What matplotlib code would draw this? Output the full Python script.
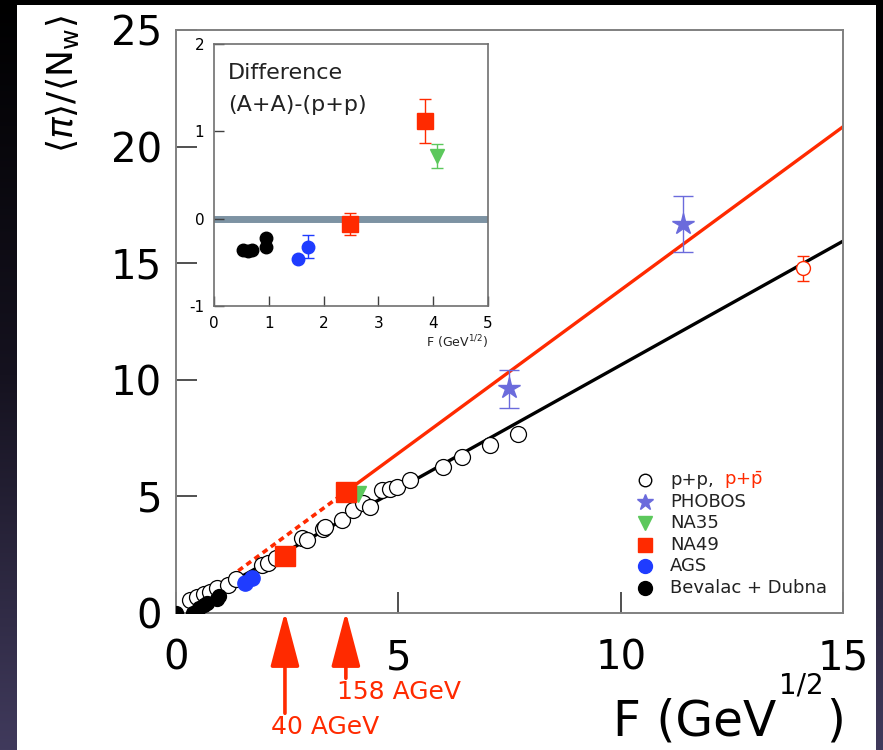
import numpy as np
import matplotlib.pyplot as plt
from matplotlib.patches import Rectangle
from matplotlib.colors import LinearSegmentedColormap

plt.rcParams['axes.unicode_minus'] = False
plt.rcParams['mathtext.fontset'] = 'dejavusans'

# ---------------------------------------------------------------------------
# data
# ---------------------------------------------------------------------------
# p+p (open circles)
pp_F = [0.31, 0.47, 0.62, 0.76, 0.92, 1.17, 1.35, 1.93, 2.07, 2.25, 2.83, 2.95,
        3.30, 3.35, 3.73, 3.98, 4.20, 4.36, 4.63, 4.81, 4.97, 5.26, 6.00, 6.43,
        7.06, 7.69]
pp_y = [0.56, 0.69, 0.80, 0.90, 1.07, 1.20, 1.45, 2.07, 2.15, 2.35, 3.20, 3.14,
        3.60, 3.70, 4.00, 4.43, 4.70, 4.56, 5.29, 5.30, 5.40, 5.72, 6.27, 6.70,
        7.22, 7.69]
# p+pbar
ppbar_F = [14.1]
ppbar_y = [14.78]
ppbar_err = [0.55]
# PHOBOS
phobos_F = [7.49, 11.4]
phobos_y = [9.63, 16.67]
phobos_lo = [0.83, 1.17]
phobos_hi = [0.77, 1.23]
# NA35
na35_F = [4.09]
na35_y = [5.10]
# NA49
na49_F = [2.45, 3.82]
na49_y = [2.45, 5.18]
# AGS
ags_F = [1.55, 1.71]
ags_y = [1.29, 1.50]
# Bevalac + Dubna
bev_F = [0.00, 0.38, 0.52, 0.62, 0.70, 0.93, 0.96]
bev_y = [0.00, 0.02, 0.22, 0.35, 0.42, 0.62, 0.72]

# straight lines: slope / intercept and range
pp_slope, pp_range = 1.063, (0.5, 15.0)
aa_slope, aa_icpt = 1.40, -0.15
aa_dash_range = (0.85, 3.82)
aa_solid_range = (3.82, 15.0)

# inset: difference (A+A)-(p+p)
d_na49_F = [2.48, 3.85]
d_na49 = [-0.06, 1.12]
d_na49_lo = [0.13, 0.25]
d_na49_hi = [0.12, 0.25]
d_na35_F = [4.07]
d_na35 = [0.72]
d_na35_err = [0.14]
d_ags_F = [1.54, 1.72]
d_ags = [-0.46, -0.32]
d_ags_err = [0.0, 0.13]
d_bev_F = [0.53, 0.62, 0.70, 0.95, 0.95]
d_bev = [-0.36, -0.37, -0.36, -0.22, -0.33]

# energy arrows
arrow_F = [2.45, 3.82]
arrow_labels = ['40 AGeV', '158 AGeV']

RED = '#ff2a00'
STAR = '#6b6bdc'
GREEN = '#5cc85c'
BLUE = '#1f3cff'

W, H = 883, 750
fig = plt.figure(figsize=(W / 100, H / 100), dpi=100)

# dark slide background with white panel
bg = fig.add_axes([0, 0, 1, 1], zorder=-10)
grad = np.linspace(0, 1, 256).reshape(-1, 1)
cmap = LinearSegmentedColormap.from_list('bg', ['#000000', '#15121f', '#403a5c'])
bg.imshow(grad, aspect='auto', cmap=cmap, extent=[0, 1, 0, 1], origin='upper')
bg.add_patch(Rectangle((17 / W, 0), (876 - 17) / W, (750 - 5) / H,
                       facecolor='white', edgecolor='none'))
bg.set_xlim(0, 1)
bg.set_ylim(0, 1)
bg.axis('off')

# ---------------------------------------------------------------------------
# main panel
# ---------------------------------------------------------------------------
ax = fig.add_axes([176 / W, 1 - 613 / H, (843 - 176) / W, (613 - 30) / H])
ax.set_facecolor('none')

xs = np.array(pp_range)
ax.plot(xs, pp_slope * xs, color='black', lw=2.4, zorder=2)
xs = np.array(aa_dash_range)
ax.plot(xs, aa_slope * xs + aa_icpt, color=RED, lw=2.6, ls=(0, (1.6, 1.2)), zorder=2)
xs = np.array(aa_solid_range)
ax.plot(xs, aa_slope * xs + aa_icpt, color=RED, lw=2.4, zorder=2)

ax.plot(pp_F, pp_y, 'o', mfc='white', mec='black', mew=0.9, ms=11.5, zorder=3)
ax.plot(bev_F, bev_y, 'o', color='black', ms=10, zorder=4)
ax.plot(ags_F, ags_y, 'o', color=BLUE, ms=11, zorder=4)
ax.plot(na35_F, na35_y, 'v', color=GREEN, ms=12, zorder=4)
ax.plot(na49_F, na49_y, 's', color=RED, ms=15, zorder=5)
ax.errorbar(phobos_F, phobos_y, yerr=[phobos_lo, phobos_hi], fmt='*', color=STAR,
            ms=16, elinewidth=1.0, capsize=7, capthick=1.0, zorder=4)
ax.errorbar(ppbar_F, ppbar_y, yerr=ppbar_err, fmt='o', mfc='white', mec=RED,
            ecolor=RED, ms=10, mew=1.0, elinewidth=1.0, capsize=4, zorder=4)

ax.set_xlim(0, 15)
ax.set_ylim(0, 25)
ax.set_xticks([0, 5, 10, 15])
ax.set_yticks([0, 5, 10, 15, 20, 25])
for s in ax.spines.values():
    s.set_color('#808080')
    s.set_linewidth(1.4)
ax.tick_params(direction='in', length=15, width=1.4, color='#505050',
               labelsize=29, top=False, right=False)
ax.tick_params(axis='y', pad=10)
ax.tick_params(axis='x', pad=18)

# arrows marking the SPS energies
tails = [-4.3, -2.8]
label_pos = [(2.14, -4.9), (3.62, -3.4)]
for f, tail, lab, (lx, ly) in zip(arrow_F, tails, arrow_labels, label_pos):
    ax.annotate('', xy=(f, 0.05), xytext=(f, tail), xycoords='data',
                annotation_clip=False,
                arrowprops=dict(arrowstyle='-|>,head_length=1.7,head_width=0.45',
                                color=RED, lw=2.6, mutation_scale=20,
                                shrinkA=0, shrinkB=0))
    ax.text(lx, ly, lab, color=RED, fontsize=18, ha='left', va='center',
            clip_on=False)

# hand-made legend
lx_m, lx_t = 0.703, 0.741
ly0, dly = 0.228, 0.0369
leg = [
    dict(marker='o', mfc='white', mec='black', ms=9, label='p+p,'),
    dict(marker='*', mfc=STAR, mec=STAR, ms=12, label='PHOBOS'),
    dict(marker='v', mfc=GREEN, mec=GREEN, ms=10, label='NA35'),
    dict(marker='s', mfc=RED, mec=RED, ms=10, label='NA49'),
    dict(marker='o', mfc=BLUE, mec=BLUE, ms=10, label='AGS'),
    dict(marker='o', mfc='black', mec='black', ms=10, label='Bevalac + Dubna'),
]
for i, e in enumerate(leg):
    yy = ly0 - i * dly
    ax.plot([lx_m], [yy], marker=e['marker'], mfc=e['mfc'], mec=e['mec'],
            ms=e['ms'], ls='none', transform=ax.transAxes, clip_on=False)
    ax.text(lx_t, yy, e['label'], fontsize=13, va='center', ha='left',
            color='#222222', transform=ax.transAxes)
ax.text(0.8216, ly0, r'p+$\bar{\mathrm{p}}$', fontsize=13, va='center', ha='left',
        color=RED, transform=ax.transAxes)

# axis titles
fig.text(62 / W, 1 - 84 / H, r'$\langle\pi\rangle/\langle \mathrm{N_w}\rangle$',
         rotation=90, fontsize=26, ha='center', va='center')
t1 = fig.text(613 / W, 1 - 735 / H, 'F (GeV', fontsize=35, va='baseline')
fig.canvas.draw()
r = fig.canvas.get_renderer()
bb = t1.get_window_extent(r)
t2 = fig.text((bb.x1 + 3) / W, 1 - 694 / H, '1/2', fontsize=20, va='baseline')
bb2 = t2.get_window_extent(r)
fig.text((bb2.x1 + 2) / W, 1 - 735 / H, ')', fontsize=35, va='baseline')

# ---------------------------------------------------------------------------
# inset: difference
# ---------------------------------------------------------------------------
ax2 = fig.add_axes([214 / W, 1 - 306 / H, (488 - 214) / W, (306 - 44) / H])
ax2.set_facecolor('white')
ax2.axhline(0, color='#7d93a3', lw=5, zorder=1)
ax2.plot(d_bev_F, d_bev, 'o', color='black', ms=9, zorder=3)
ax2.errorbar(d_ags_F, d_ags, yerr=d_ags_err, fmt='o', color=BLUE, ms=9,
             elinewidth=1, capsize=4, zorder=3)
ax2.errorbar(d_na49_F, d_na49, yerr=[d_na49_lo, d_na49_hi], fmt='s', color=RED,
             ms=11, elinewidth=1, capsize=4, zorder=3)
ax2.errorbar(d_na35_F, d_na35, yerr=d_na35_err, fmt='v', color=GREEN, ms=10,
             elinewidth=1, capsize=4, zorder=3)
ax2.set_xlim(0, 5)
ax2.set_ylim(-1, 2)
ax2.set_xticks([0, 1, 2, 3, 4, 5])
ax2.set_yticks([-1, 0, 1, 2])
for s in ax2.spines.values():
    s.set_color('#707070')
    s.set_linewidth(1.2)
ax2.tick_params(direction='in', length=7, width=1.0, color='#404040',
                labelsize=11, pad=7, top=False, right=False)
ax2.text(0.26, 1.67, 'Difference', fontsize=16, va='center', ha='left', color='#222222')
ax2.text(0.26, 1.30, '(A+A)-(p+p)', fontsize=16, va='center', ha='left', color='#222222')
ax2.text(1.0, -0.14, r'F (GeV$^{1/2}$)', fontsize=9, ha='right', va='center',
         transform=ax2.transAxes, color='#222222')

fig.savefig('out.png', dpi=100)
